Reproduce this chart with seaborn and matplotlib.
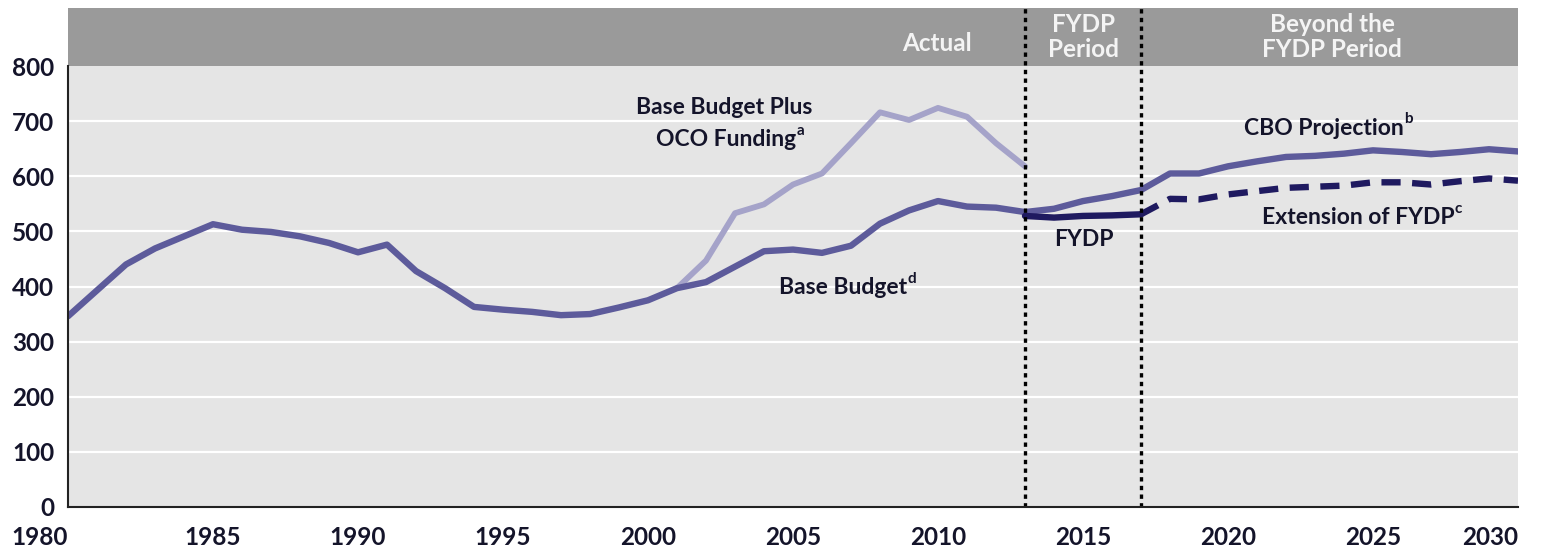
import numpy as np
import pandas as pd
import matplotlib
matplotlib.use('Agg')
import matplotlib.pyplot as plt
import seaborn as sns

# data (billions of dollars)
base_years = list(range(1980, 2014))
base_budget = [346, 393, 440, 469, 491, 513, 503, 499, 491, 479, 462, 476, 428, 397, 363, 358,
               354, 348, 350, 362, 375, 397, 408, 436, 464, 467, 461, 474, 514, 538, 555, 545,
               543, 535]
oco_years = list(range(2001, 2014))
oco_funding = [397, 447, 533, 549, 585, 605, 660, 716, 702, 724, 708, 660, 618]
cbo_years = list(range(2013, 2031))
cbo_projection = [535, 541, 555, 564, 575, 605, 605, 618, 627, 635, 637, 641, 647, 644, 640,
                  644, 649, 645]
fydp_years = list(range(2013, 2018))
fydp = [528, 525, 528, 529, 531]
ext_years = list(range(2017, 2031))
ext_fydp = [531, 559, 558, 567, 573, 579, 581, 583, 589, 589, 585, 591, 596, 592]

period_breaks = [2013, 2017]

C_BASE = '#5d5b9b'
C_OCO = '#a5a3c9'
C_FYDP = '#1f1a60'
TXT = '#14142a'

sns.set_style('white')
plt.rcParams['font.family'] = ['Lato', 'DejaVu Sans']
plt.rcParams['font.weight'] = 'bold'

W, H = 1552, 549
fig = plt.figure(figsize=(W / 100, H / 100), dpi=100)
x0, x1, ybot, ytop, y800 = 68, 1518, 507, 8, 66
ax = fig.add_axes([x0 / W, 1 - ybot / H, (x1 - x0) / W, (ybot - ytop) / H])
top_val = 800 * (ybot - ytop) / (ybot - y800)
ax.set_xlim(1980, 2030)
ax.set_ylim(0, top_val)
ax.set_facecolor('#e5e5e5')

# header band
ax.axhspan(800, top_val, color='#9a9a9a', zorder=1.5, lw=0)
for yv in range(100, 800, 100):
    ax.axhline(yv, color='white', lw=1.6, zorder=0.8)

sns.lineplot(x=oco_years, y=oco_funding, ax=ax, color=C_OCO, lw=4.2, zorder=3)
sns.lineplot(x=base_years, y=base_budget, ax=ax, color=C_BASE, lw=4.6, zorder=4)
sns.lineplot(x=cbo_years, y=cbo_projection, ax=ax, color=C_BASE, lw=4.6, zorder=4)
sns.lineplot(x=fydp_years, y=fydp, ax=ax, color=C_FYDP, lw=4.6, zorder=5)
sns.lineplot(x=ext_years, y=ext_fydp, ax=ax, color=C_FYDP, lw=4.6, zorder=5,
             linestyle=(0, (3.0, 1.8)))

for b in period_breaks:
    ax.axvline(b, color='black', lw=2.4, linestyle=(0, (1.3, 1.3)), zorder=6)

# spines and ticks
for s in ['top', 'right']:
    ax.spines[s].set_visible(False)
ax.spines['left'].set_bounds(0, 800)
for s in ['left', 'bottom']:
    ax.spines[s].set_color('#222222')
    ax.spines[s].set_linewidth(1.5)
    ax.spines[s].set_zorder(7)
ax.set_yticks(range(0, 801, 100))
ax.set_xticks(range(1980, 2031, 5))
ax.tick_params(axis='y', direction='in', length=7, width=1.5, color='#222222',
               labelsize=17.5, labelcolor=TXT, pad=10)
ax.tick_params(axis='x', direction='in', length=7, width=1.5, color='#222222',
               labelsize=17.5, labelcolor=TXT, pad=14)
for lab in ax.get_xticklabels() + ax.get_yticklabels():
    lab.set_fontweight('bold')
xlabs = ax.get_xticklabels()
xlabs[0].set_ha('right')
xlabs[-1].set_ha('right')
ax.set_xlabel('')
ax.set_ylabel('')


def label(x, y, s, sup=None, color=TXT, size=16.5):
    t = ax.text(x, y, s, ha='center', va='center', fontsize=size, fontweight='bold',
                color=color, zorder=8)
    if sup:
        ax.annotate(sup, xy=(1, 0.95), xycoords=t, xytext=(0.3, 0), textcoords='offset points',
                    ha='left', va='center', fontsize=11, fontweight='bold', color=color,
                    zorder=8)
    return t


label(2002.62, 725.6, 'Base Budget Plus')
label(2002.69, 665.8, 'OCO Funding', 'a')
label(2006.74, 397.3, 'Base Budget', 'd')
label(2023.31, 687.5, 'CBO Projection', 'b')
label(2024.48, 524.3, 'Extension of FYDP', 'c')
label(2015.03, 484.4, 'FYDP')

hdr = '#f4f4f4'
ax.text(2009.97, 840, 'Actual', ha='center', va='center', fontsize=17.5, fontweight='bold',
        color=hdr, zorder=8)
ax.text(2015.0, 853, 'FYDP\nPeriod', ha='center', va='center', fontsize=17.5,
        fontweight='bold', color=hdr, linespacing=1.1, zorder=8)
ax.text(2023.59, 853, 'Beyond the\nFYDP Period', ha='center', va='center', fontsize=17.5,
        fontweight='bold', color=hdr, linespacing=1.1, zorder=8)

fig.savefig('out.png', dpi=100, facecolor='white')
